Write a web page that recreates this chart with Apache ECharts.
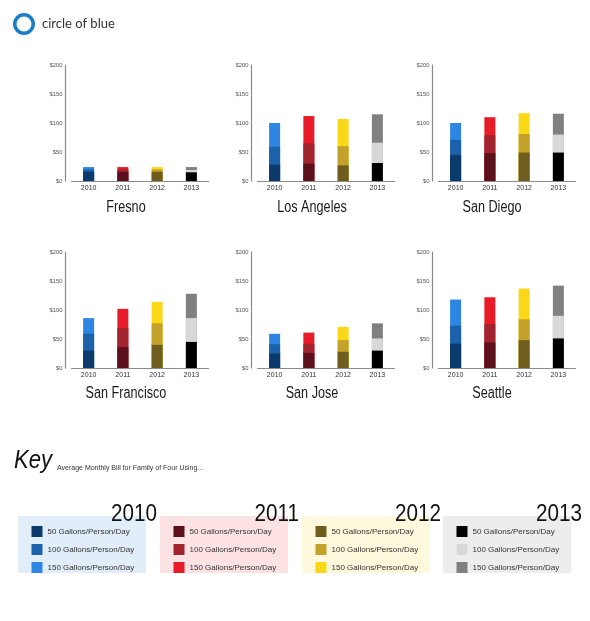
<!DOCTYPE html>
<html>
<head>
<meta charset="utf-8">
<script src="https://cdn.jsdelivr.net/npm/echarts@6/dist/echarts.min.js"></script>
<style>
html,body{margin:0;padding:0;background:#fff;}
#chart{width:590px;height:621px;}
</style>
</head>
<body>
<div id="chart"></div>
<script>
// ---- data (average monthly bill, USD, family of four) ----
const years = ['2010', '2011', '2012', '2013'];
const cities = ['Fresno', 'Los Angeles', 'San Diego', 'San Francisco', 'San Jose', 'Seattle'];
const usageLevels = ['50 Gallons/Person/Day', '100 Gallons/Person/Day', '150 Gallons/Person/Day'];
const yTicks = [0, 50, 100, 150, 200];

const fresno50 = [16, 16, 16, 15];
const fresno100 = [20, 20, 20, 19];
const fresno150 = [24, 24, 24, 24];

const losAngeles50 = [28, 30, 27, 31];
const losAngeles100 = [59, 65, 60, 66];
const losAngeles150 = [100, 112, 107, 115];

const sanDiego50 = [45, 48, 49, 49];
const sanDiego100 = [71, 79, 81, 80];
const sanDiego150 = [100, 110, 117, 116];

const sanFrancisco50 = [30, 36, 40, 45];
const sanFrancisco100 = [59, 69, 77, 86];
const sanFrancisco150 = [86, 102, 114, 128];

const sanJose50 = [25, 26, 28, 30];
const sanJose100 = [41, 42, 48, 51];
const sanJose150 = [59, 61, 71, 77];

const seattle50 = [42, 44, 48, 51];
const seattle100 = [73, 76, 84, 90];
const seattle150 = [118, 122, 137, 142];

const cityData = [
  [fresno50, fresno100, fresno150],
  [losAngeles50, losAngeles100, losAngeles150],
  [sanDiego50, sanDiego100, sanDiego150],
  [sanFrancisco50, sanFrancisco100, sanFrancisco150],
  [sanJose50, sanJose100, sanJose150],
  [seattle50, seattle100, seattle150]
];

// ---- styles ----
const yearColors = [
  ['#0c3a6c', '#1c62aa', '#2c86e2'],
  ['#5c101b', '#a1242f', '#e81b28'],
  ['#6f5d1f', '#c3a12b', '#fbd817'],
  ['#000000', '#d8d8d8', '#808080']
];
const keyBg = ['#e1edf9', '#fce2e3', '#fef9dc', '#ededed'];
const FONT = "'Liberation Sans', Arial, sans-serif";

const colAxisX = [65, 251, 432];
const rowTop = [65, 252];
const gridH = 116;
const gridW = 137;
const titleX = [126, 312, 492];
const titleY = [208, 394];

const grids = [], xAxes = [], yAxes = [], series = [], graphics = [];

cities.forEach((city, i) => {
  const col = i % 3, row = Math.floor(i / 3);
  const left = colAxisX[col] + 6.5;
  grids.push({ left: left, top: rowTop[row], width: gridW, height: gridH });
  xAxes.push({
    type: 'category', gridIndex: i, data: years,
    axisLine: { lineStyle: { color: '#8a8a8a', width: 1.2 } },
    axisTick: { show: false },
    axisLabel: { color: '#333', fontSize: 7, fontFamily: FONT, margin: 3.5 }
  });
  yAxes.push({
    type: 'value', gridIndex: i, min: yTicks[0], max: yTicks[yTicks.length - 1], interval: 50,
    offset: 6.5,
    axisLine: { show: true, lineStyle: { color: '#8a8a8a', width: 1.2 } },
    axisTick: { show: false },
    splitLine: { show: false },
    axisLabel: { color: '#555', fontSize: 5.8, fontFamily: FONT, margin: 2.5, formatter: v => '$' + v }
  });
  // draw 150 (back), 100, 50 (front) overlapping
  [2, 1, 0].forEach(lvl => {
    series.push({
      type: 'bar', name: usageLevels[lvl], xAxisIndex: i, yAxisIndex: i,
      data: cityData[i][lvl], barWidth: 11, barGap: '-100%',
      itemStyle: { color: p => yearColors[p.dataIndex][lvl] },
      emphasis: { disabled: true }, silent: true
    });
  });
  graphics.push({
    type: 'text', x: titleX[col], y: titleY[row], scaleX: 0.79,
    style: { text: city, fill: '#1a1a1a', font: '16px ' + FONT, align: 'center', verticalAlign: 'middle' }
  });
});

// logo
graphics.push({ type: 'ring', shape: { cx: 24, cy: 24, r: 11, r0: 7.5 }, style: { fill: '#1b7dc6' } });
graphics.push({ type: 'text', x: 42, y: 23.5, style: { text: 'circle of blue', fill: '#333', font: '13px Lato, sans-serif', verticalAlign: 'middle' } });

// key header
graphics.push({ type: 'text', x: 14, y: 474, scaleX: 0.85, style: { text: 'Key', fill: '#111', font: 'italic 26px ' + FONT, verticalAlign: 'bottom' } });
graphics.push({ type: 'text', x: 57, y: 471.5, style: { text: 'Average Monthly Bill for Family of Four Using...', fill: '#333', font: '7px ' + FONT, verticalAlign: 'bottom' } });

// key boxes
const keyX = [18, 160, 302, 443];
const rowY = [531.5, 549.5, 567.5];
years.forEach((yr, j) => {
  const bx = keyX[j];
  graphics.push({ type: 'rect', shape: { x: bx, y: 516, width: 128, height: 57 }, style: { fill: keyBg[j] }, z: 0 });
  graphics.push({ type: 'text', x: bx + 139, y: 514, z: 2, scaleX: 0.86, style: { text: yr, fill: '#111', font: '24px ' + FONT, align: 'right', verticalAlign: 'middle' } });
  usageLevels.forEach((lab, k) => {
    graphics.push({ type: 'rect', z: 2, shape: { x: bx + 13.5, y: rowY[k] - 5.5, width: 11, height: 11 }, style: { fill: yearColors[j][k] } });
    graphics.push({ type: 'text', z: 2, x: bx + 29.5, y: rowY[k], style: { text: lab, fill: '#333', font: '8px ' + FONT, verticalAlign: 'middle' } });
  });
});

const chart = echarts.init(document.getElementById('chart'), null, { renderer: 'canvas' });
chart.setOption({
  animation: false,
  backgroundColor: '#fff',
  grid: grids, xAxis: xAxes, yAxis: yAxes, series: series,
  graphic: graphics
});
</script>
</body>
</html>
